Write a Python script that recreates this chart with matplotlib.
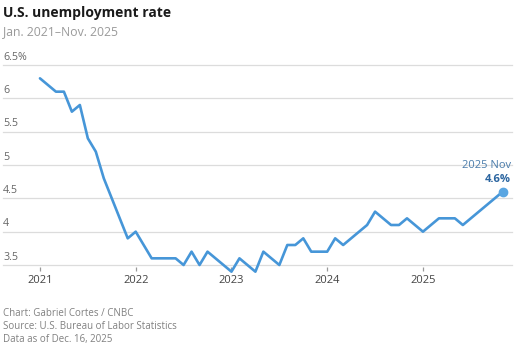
import matplotlib
matplotlib.use("Agg")
import matplotlib.pyplot as plt

# monthly U.S. unemployment rate, Jan 2021 - Nov 2025 (no Oct 2025 release)
years = [2021] * 12 + [2022] * 12 + [2023] * 12 + [2024] * 12 + [2025] * 10
months = list(range(1, 13)) * 4 + [1, 2, 3, 4, 5, 6, 7, 8, 9, 11]
rates = [
    6.3, 6.2, 6.1, 6.1, 5.8, 5.9, 5.4, 5.2, 4.8, 4.5, 4.2, 3.9,
    4.0, 3.8, 3.6, 3.6, 3.6, 3.6, 3.5, 3.7, 3.5, 3.7, 3.6, 3.5,
    3.4, 3.6, 3.5, 3.4, 3.7, 3.6, 3.5, 3.8, 3.8, 3.9, 3.7, 3.7,
    3.7, 3.9, 3.8, 3.9, 4.0, 4.1, 4.3, 4.2, 4.1, 4.1, 4.2, 4.1,
    4.0, 4.1, 4.2, 4.2, 4.2, 4.1, 4.2, 4.3, 4.4, 4.6,
]
y_ticks = [3.5, 4, 4.5, 5, 5.5, 6, 6.5]
y_labels = ["3.5", "4", "4.5", "5", "5.5", "6", "6.5%"]
x_ticks = [2021, 2022, 2023, 2024, 2025]

t = [y + (m - 1) / 12 for y, m in zip(years, months)]

plt.rcParams["font.family"] = ["Open Sans", "DejaVu Sans"]

fig = plt.figure(figsize=(5.21, 3.48), dpi=100)
ax = fig.add_axes([3 / 521, 1 - 267 / 348, 509 / 521, 202 / 348])
ax.set_xlim(2020.614, 2025.93)
ax.set_ylim(3.47, 6.5)

for v, lab in zip(y_ticks, y_labels):
    ax.axhline(v, color="#dcdcdc", lw=0.9, zorder=1, clip_on=False)
    ax.annotate(lab, (0, v), xycoords=("axes fraction", "data"),
                xytext=(0, 1.6), textcoords="offset points",
                ha="left", va="bottom", fontsize=7.7, color="#666666")

line_color = "#4696d8"
ax.plot(t, rates, color=line_color, lw=1.9, solid_joinstyle="round",
        solid_capstyle="round", zorder=3, clip_on=False)
ax.plot(t[-1], rates[-1], "o", color="#5aa6e2", ms=6, zorder=4, clip_on=False)

ax.annotate("2025 Nov", (t[-1], rates[-1]), xytext=(6, 19),
            textcoords="offset points", ha="right", va="center",
            fontsize=8, color="#4a7cab")
ax.annotate(f"{rates[-1]}%", (t[-1], rates[-1]), xytext=(6, 8.7),
            textcoords="offset points", ha="right", va="center",
            fontsize=8, color="#2b65a0", fontweight="bold")

ax.set_xticks(x_ticks)
ax.set_xticklabels([str(x) for x in x_ticks])
ax.tick_params(axis="x", length=3, width=0.9, color="#999999", pad=2.5,
               labelsize=8, labelcolor="#444444")
ax.set_yticks([])
for s in ax.spines.values():
    s.set_visible(False)

fig.text(3 / 521, 1 - 12.5 / 348, "U.S. unemployment rate", fontsize=10,
         fontweight="bold", color="#1a1a1a", ha="left", va="center")
fig.text(3 / 521, 1 - 32 / 348, "Jan. 2021\u2013Nov. 2025", fontsize=8.8,
         color="#9a9a9a", ha="left", va="center")

footer = ["Chart: Gabriel Cortes / CNBC",
          "Source: U.S. Bureau of Labor Statistics",
          "Data as of Dec. 16, 2025"]
for i, line in enumerate(footer):
    fig.text(3 / 521, 1 - (313.5 + 12.8 * i) / 348, line, fontsize=7.0,
             color="#808080", ha="left", va="center")

fig.savefig("out.png", dpi=100)
